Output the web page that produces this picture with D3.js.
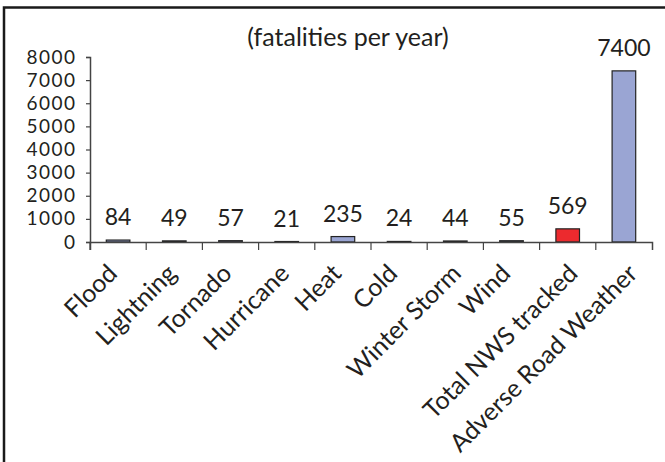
<!DOCTYPE html>
<html lang="en">
<head>
<meta charset="UTF-8">
<title>Weather fatalities per year</title>
<style>
  html, body { margin: 0; padding: 0; background: #fff; }
  svg { display: block; font-family: "Lato", "Open Sans", sans-serif; }
</style>
</head>
<body>
<svg id="svg" width="665" height="462"></svg>
<script src="https://d3js.org/d3.v7.min.js"></script>
<script>
const categories = ["Flood", "Lightning", "Tornado", "Hurricane", "Heat", "Cold",
  "Winter Storm", "Wind", "Total NWS tracked", "Adverse Road Weather"]
const fatalities = [84, 49, 57, 21, 235, 24, 44, 55, 569, 7400]
const highlighted = ["Total NWS tracked"]
const yTicks = [0, 1000, 2000, 3000, 4000, 5000, 6000, 7000, 8000]
const title = "(fatalities per year)"

const data = categories.map((c, i) => ({ name: c, value: fatalities[i] }))

const margin = { top: 57, left: 90, right: 13, bottom: 220 }
const W = 665, H = 462
const textColor = "#231f20"

const svg = d3.select("#svg")

// frame: only left and top edges show
svg.append("path")
  .attr("d", `M4,${H} L4,7.5 L${W},7.5`)
  .attr("fill", "none")
  .attr("stroke", "#1a1a1a")
  .attr("stroke-width", 2.5)

const x = d3.scaleBand()
  .domain(categories)
  .range([margin.left, W - margin.right])

const y = d3.scaleLinear()
  .domain([0, 8000])
  .range([H - margin.bottom, margin.top])

const barW = x.bandwidth() * 0.42

svg.append("g")
  .selectAll("rect")
  .data(data)
  .join("rect")
  .attr("x", d => x(d.name) + (x.bandwidth() - barW) / 2)
  .attr("y", d => y(d.value))
  .attr("width", barW)
  .attr("height", d => y(0) - y(d.value))
  .attr("fill", d => highlighted.includes(d.name) ? "#ec2a2e" : "#9aa5d3")
  .attr("stroke", "#222")
  .attr("stroke-width", 1.2)

// value labels
svg.append("g")
  .selectAll("text")
  .data(data)
  .join("text")
  .attr("x", d => x(d.name) + x.bandwidth() / 2)
  .attr("y", d => y(d.value) - 15)
  .attr("text-anchor", "middle")
  .attr("font-size", 23)
  .attr("fill", textColor)
  .text(d => d.value)

// y axis
const yAxis = svg.append("g")
  .attr("transform", `translate(${margin.left},0)`)
  .call(d3.axisLeft(y).tickValues(yTicks).tickSize(4).tickPadding(9.5).tickFormat(d3.format("d")))
yAxis.select(".domain").attr("stroke", "#444").attr("stroke-width", 1.5)
yAxis.selectAll(".tick line").attr("stroke", "#444").attr("stroke-width", 1.2)
yAxis.selectAll("text")
  .attr("font-size", 19)
  .attr("letter-spacing", 1.5)
  .attr("font-family", "Lato, sans-serif")
  .attr("fill", textColor)

// x axis
const xAxis = svg.append("g")
  .attr("transform", `translate(0,${y(0)})`)
  .call(d3.axisBottom(x).tickSizeInner(8).tickSizeOuter(8))
xAxis.select(".domain").attr("stroke", "#444").attr("stroke-width", 1.5)
xAxis.selectAll(".tick line")
  .attr("stroke", "#444")
  .attr("stroke-width", 1.2)
  .attr("transform", `translate(${-x.bandwidth() / 2},0)`)
xAxis.selectAll(".tick text")
  .attr("font-size", 25)
  .attr("font-family", "Lato, sans-serif")
  .attr("fill", textColor)
  .attr("text-anchor", "end")
  .attr("dy", null)
  .attr("y", null)
  .attr("transform", function () {
    // longer labels sit a little further right, as in the source chart
    const len = this.getComputedTextLength()
    return `translate(${0.075 * len - 4},33) rotate(-45)`
  })

// title
svg.append("text")
  .attr("x", 348)
  .attr("y", 46)
  .attr("text-anchor", "middle")
  .attr("font-size", 25)
  .attr("fill", textColor)
  .text(title)
</script>
</body>
</html>
